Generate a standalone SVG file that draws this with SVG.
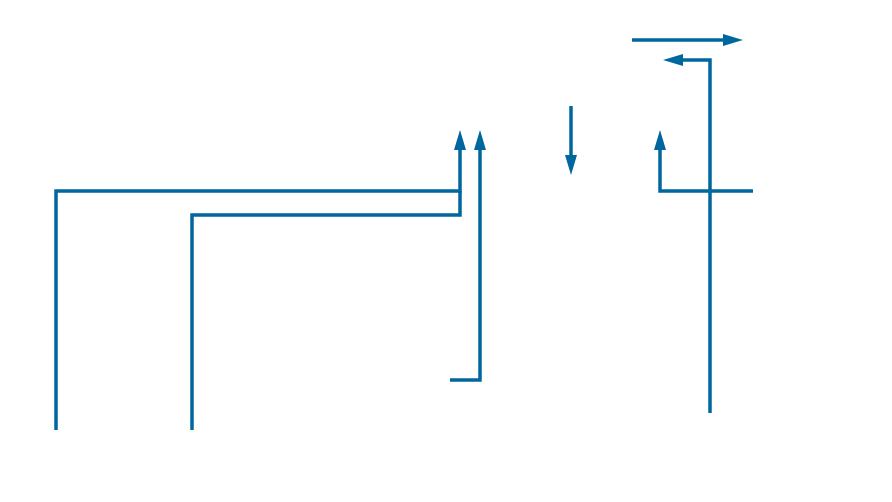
<svg xmlns="http://www.w3.org/2000/svg" width="892" height="502" viewBox="0 0 892 502">
<style>
.c{fill:none;stroke:#00679e;stroke-width:3.5;stroke-linejoin:miter}
</style>
<defs>
<marker id="ah" viewBox="0 0 20 12" markerUnits="userSpaceOnUse" markerWidth="20" markerHeight="12" refX="10" refY="6" orient="auto">
<path d="M0,0 L20,6 L0,12 z" fill="#00679e"/>
</marker>
</defs>
<rect width="892" height="502" fill="#ffffff"/>
<g id="connectors">
<path class="c" d="M56,430 V191 H460 V140" marker-end="url(#ah)"/>
<path class="c" d="M192,430 V215 H460 V191"/>
<path class="c" d="M450,380 H480 V140" marker-end="url(#ah)"/>
<path class="c" d="M571,106 V165" marker-end="url(#ah)"/>
<path class="c" d="M632,40 H733" marker-end="url(#ah)"/>
<path class="c" d="M710,413 V60 H673" marker-end="url(#ah)"/>
<path class="c" d="M753,191 H660 V140" marker-end="url(#ah)"/>
</g>
</svg>
